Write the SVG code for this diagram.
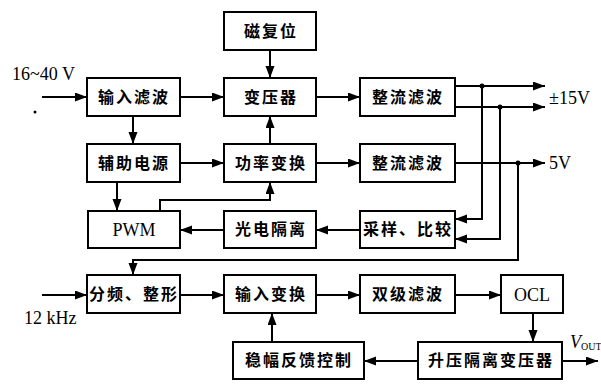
<svg xmlns="http://www.w3.org/2000/svg" width="601" height="384" viewBox="0 0 601 384">
<style>
.b{fill:#fff;stroke:#000;stroke-width:2}
.t{font-family:"Noto Sans CJK SC","Liberation Serif",sans-serif;font-size:16px;font-weight:bold;letter-spacing:2px;text-anchor:middle}
.l{font-family:"Liberation Serif",serif;font-size:18px;fill:#000}
.c{fill:none;stroke:#000;stroke-width:2}
</style>
<defs>
<marker id="a" markerUnits="userSpaceOnUse" markerWidth="12" markerHeight="10" refX="12" refY="4.5" orient="auto">
<path d="M0,0 L12,4.5 L0,9 z" fill="#000"/>
</marker>
</defs>
<g id="n-cifuwei"><rect class="b" x="224" y="12" width="92" height="38"/><text class="t" x="271" y="37">磁复位</text></g>
<g id="n-shurulvbo"><rect class="b" x="87" y="78" width="93" height="38"/><text class="t" x="134" y="103">输入滤波</text></g>
<g id="n-bianyaqi"><rect class="b" x="224" y="78" width="92" height="38"/><text class="t" x="271" y="103">变压器</text></g>
<g id="n-zhengliu1"><rect class="b" x="360" y="78" width="95" height="38"/><text class="t" x="408" y="103">整流滤波</text></g>
<g id="n-fuzhu"><rect class="b" x="87" y="144" width="93" height="38"/><text class="t" x="134" y="169">辅助电源</text></g>
<g id="n-gonglv"><rect class="b" x="224" y="144" width="92" height="38"/><text class="t" x="271" y="169">功率变换</text></g>
<g id="n-zhengliu2"><rect class="b" x="360" y="144" width="95" height="38"/><text class="t" x="408" y="169">整流滤波</text></g>
<g id="n-pwm"><rect class="b" x="88" y="211" width="92" height="37"/><text class="l" x="134" y="236" text-anchor="middle">PWM</text></g>
<g id="n-guangdian"><rect class="b" x="224" y="211" width="92" height="37"/><text class="t" x="271" y="235">光电隔离</text></g>
<g id="n-caiyang"><rect class="b" x="360" y="211" width="95" height="37"/><text class="t" x="408" y="235">采样、比较</text></g>
<g id="n-fenpin"><rect class="b" x="87" y="275" width="93" height="38"/><text class="t" x="134" y="300">分频、整形</text></g>
<g id="n-shurubianhuan"><rect class="b" x="224" y="275" width="92" height="38"/><text class="t" x="271" y="300">输入变换</text></g>
<g id="n-shuangji"><rect class="b" x="360" y="275" width="95" height="38"/><text class="t" x="408" y="300">双级滤波</text></g>
<g id="n-ocl"><rect class="b" x="501" y="275" width="62" height="38"/><text class="l" x="532" y="301" text-anchor="middle">OCL</text></g>
<g id="n-wenfu"><rect class="b" x="233" y="342" width="131" height="37"/><text class="t" x="299" y="366">稳幅反馈控制</text></g>
<g id="n-shengya"><rect class="b" x="418" y="342" width="144" height="37"/><text class="t" x="491" y="366">升压隔离变压器</text></g>
<g id="connectors">
<path class="c" marker-end="url(#a)" d="M42,97 H87"/>
<path class="c" marker-end="url(#a)" d="M180,97 H224"/>
<path class="c" marker-end="url(#a)" d="M270,50 V78"/>
<path class="c" marker-end="url(#a)" d="M316,97 H360"/>
<path class="c" marker-end="url(#a)" d="M133,116 V144"/>
<path class="c" marker-end="url(#a)" d="M180,163 H224"/>
<path class="c" marker-end="url(#a)" d="M270,144 V116"/>
<path class="c" marker-end="url(#a)" d="M316,163 H360"/>
<path class="c" marker-end="url(#a)" d="M117,182 V211"/>
<path class="c" marker-end="url(#a)" d="M160,211 V200 H270 V182"/>
<path class="c" marker-end="url(#a)" d="M224,230 H180"/>
<path class="c" marker-end="url(#a)" d="M360,230 H316"/>
<path class="c" marker-end="url(#a)" d="M455,86 H545"/>
<path class="c" marker-end="url(#a)" d="M455,107 H545"/>
<path class="c" marker-end="url(#a)" d="M455,163 H545"/>
<path class="c" marker-end="url(#a)" d="M482,86 V219 H455"/>
<path class="c" marker-end="url(#a)" d="M500,107 V239 H455"/>
<path class="c" marker-end="url(#a)" d="M518,163 V260 H133 V275"/>
<circle cx="482" cy="86" r="2.5"/>
<circle cx="500" cy="107" r="2.5"/>
<circle cx="518" cy="163" r="2.5"/>
<path class="c" marker-end="url(#a)" d="M42,295 H87"/>
<path class="c" marker-end="url(#a)" d="M180,295 H224"/>
<path class="c" marker-end="url(#a)" d="M316,295 H360"/>
<path class="c" marker-end="url(#a)" d="M455,295 H501"/>
<path class="c" marker-end="url(#a)" d="M533,313 V342"/>
<path class="c" marker-end="url(#a)" d="M562,361 H598"/>
<path class="c" marker-end="url(#a)" d="M418,361 H364"/>
<path class="c" marker-end="url(#a)" d="M272,342 V313"/>
</g>
<circle cx="35" cy="112" r="1.5"/>
<text class="l" x="12" y="80">16~40 V</text>
<text class="l" x="549" y="104">±15V</text>
<text class="l" x="549" y="169">5V</text>
<text class="l" x="24" y="324">12 kHz</text>
<text class="l" x="570" y="348" font-size="20" font-style="italic">V<tspan font-size="10" font-style="normal" dy="2">OUT</tspan></text>
</svg>
